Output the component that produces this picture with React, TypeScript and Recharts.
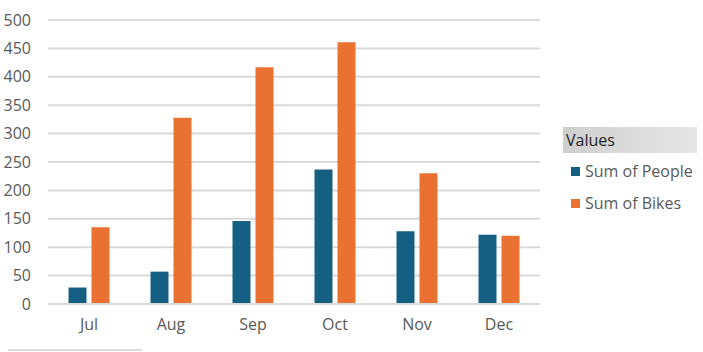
import React from "react";
import { BarChart, Bar, XAxis, YAxis, CartesianGrid } from "recharts";

const months = ["Jul", "Aug", "Sep", "Oct", "Nov", "Dec"];
const people = [29, 57, 146, 237, 128, 122];
const bikes = [135, 328, 417, 461, 230, 120];
const yTicks = [0, 50, 100, 150, 200, 250, 300, 350, 400, 450, 500];

const data = months.map((m, i) => ({ month: m, people: people[i], bikes: bikes[i] }));

const FONT = "'Open Sans', sans-serif";
const TEXT = "#595959";

const LegendBox = () => (
  <div style={{ fontFamily: FONT, width: 134, position: "absolute", left: 563, top: 127 }}>
    <div
      style={{
        height: 26,
        background: "linear-gradient(to right, #cfcfcf, #e6e6e6)",
        color: "#262626",
        fontSize: 16,
        lineHeight: "26px",
        paddingLeft: 3,
      }}
    >
      Values
    </div>
    {[
      { name: "Sum of People", color: "#156082" },
      { name: "Sum of Bikes", color: "#E97132" },
    ].map((it, i) => (
      <div
        key={it.name}
        style={{
          display: "flex",
          alignItems: "center",
          marginTop: i === 0 ? 8 : 12,
          height: 20,
          color: TEXT,
          fontSize: 16,
          paddingLeft: 8,
          whiteSpace: "nowrap",
        }}
      >
        <span style={{ width: 9, height: 9, background: it.color, display: "inline-block", marginRight: 5 }} />
        {it.name}
      </div>
    ))}
  </div>
);

export default function App() {
  return (
    <div style={{ position: "absolute", left: 0, top: 0, width: 703, height: 352, background: "#fff" }}>
      <BarChart
        width={703}
        height={352}
        data={data}
        margin={{ top: 20, right: 163, bottom: 18, left: 0 }}
        barCategoryGap="25%"
        barGap={5}
      >
        <CartesianGrid vertical={false} stroke="#d9d9d9" strokeWidth={2} />
        <XAxis
          dataKey="month"
          height={30}
          tickLine={false}
          axisLine={{ stroke: "#d9d9d9", strokeWidth: 2 }}
          tickSize={0}
          tickMargin={15}
          tick={{ fill: TEXT, fontSize: 16, fontFamily: FONT }}
        />
        <YAxis
          width={48}
          domain={[0, 500]}
          ticks={yTicks}
          interval={0}
          tickLine={false}
          axisLine={false}
          tickSize={0}
          tickMargin={17}
          tick={{ fill: TEXT, fontSize: 16, fontFamily: FONT }}
        />
        <Bar dataKey="people" name="Sum of People" fill="#156082" isAnimationActive={false} />
        <Bar dataKey="bikes" name="Sum of Bikes" fill="#E97132" isAnimationActive={false} />
      </BarChart>
      <LegendBox />
      <div style={{ position: "absolute", left: 8, top: 349, width: 134, height: 2, background: "#d9d9d9" }} />
    </div>
  );
}
